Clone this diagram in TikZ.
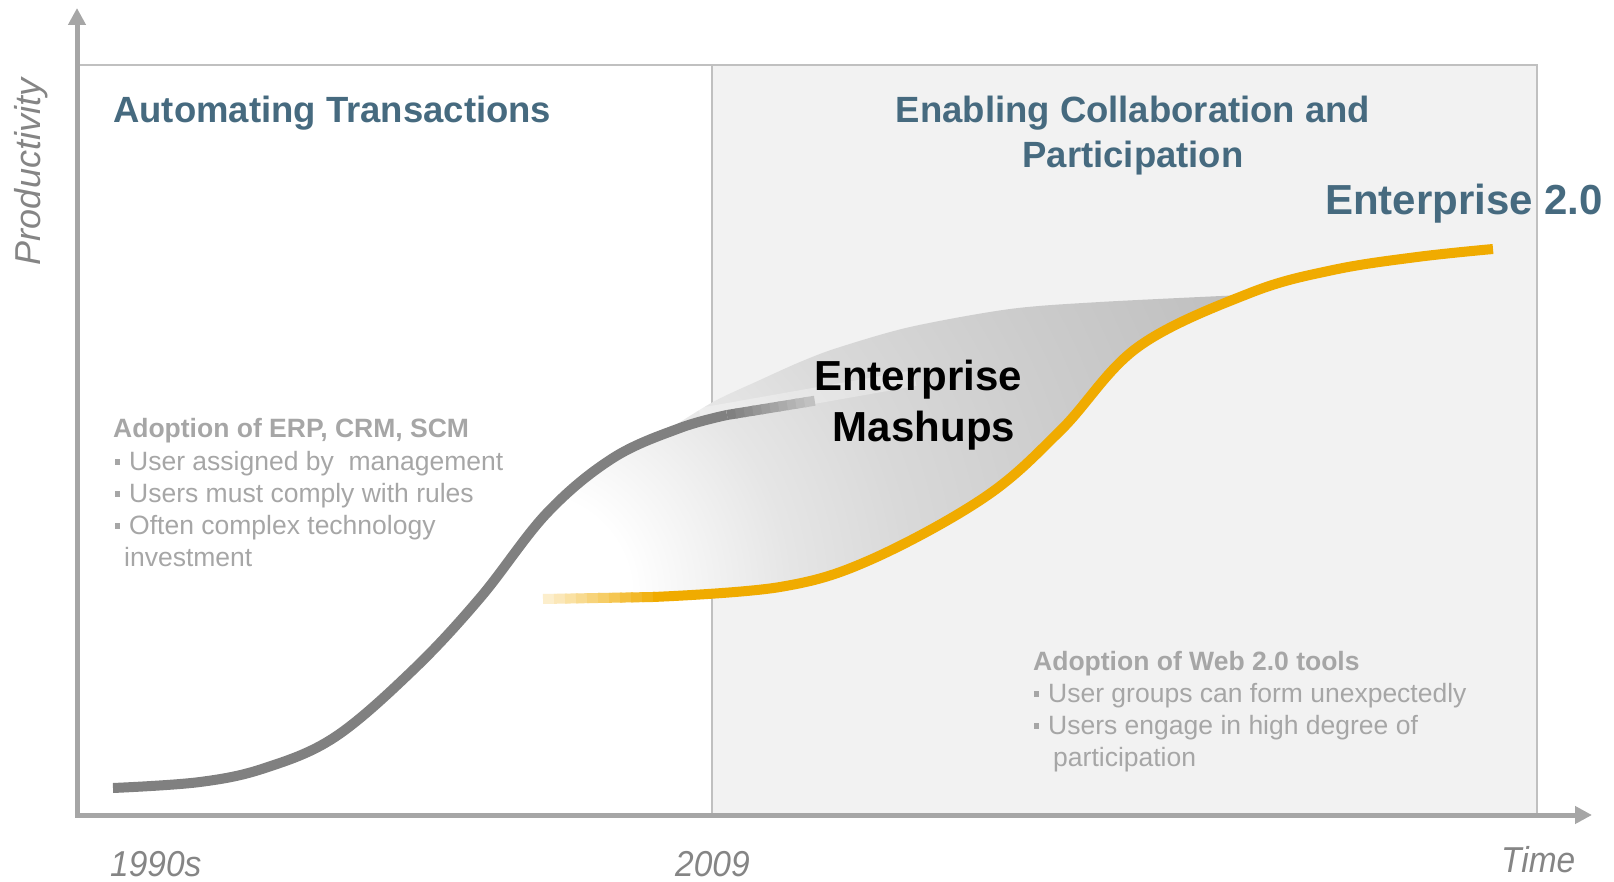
\documentclass[tikz,border=0pt]{standalone}
\usepackage{fontspec}
\setmainfont{Liberation Sans}
\usetikzlibrary{arrows.meta,calc}

\definecolor{titleblue}{HTML}{466A7F}
\definecolor{notegray}{HTML}{A6A6A6}
\definecolor{axisgray}{HTML}{A6A6A6}
\definecolor{framegray}{HTML}{C0C0C0}
\definecolor{panelgray}{HTML}{F2F2F2}
\definecolor{labelgray}{HTML}{858585}
\definecolor{oldcurve}{HTML}{808080}
\definecolor{tailgray}{HTML}{D0D0D0}
\definecolor{newcurve}{HTML}{F0AB00}

\pgfdeclareradialshading{mashshade}{\pgfpoint{0bp}{0bp}}{%
  color(0bp)=(white); color(2.5bp)=(white); color(6.5bp)=(black!10);
  color(9.5bp)=(black!15); color(14bp)=(black!20); color(19bp)=(black!25); color(50bp)=(black!25)}

\newcommand{\sqbul}{\rule[0.2em]{5pt}{6pt}\hspace{9pt}}

\begin{document}
\begin{tikzpicture}[
  x=1pt, y=-1pt,
  heading/.style={font=\fontsize{36.5}{45}\selectfont\bfseries, text=titleblue, inner sep=0pt},
  bigheading/.style={font=\fontsize{42}{50}\selectfont\bfseries, inner sep=0pt},
  note/.style={font=\fontsize{26.5}{32}\selectfont, text=notegray, inner sep=0pt, anchor=base west},
  axislabel/.style={font=\fontsize{36}{40}\selectfont\itshape, text=labelgray, inner sep=0pt},
  timeaxis/.style={draw=axisgray, line width=5pt, -{Triangle[length=17pt,width=17pt]}},
  boxline/.style={draw=framegray, line width=2pt},
  oldline/.style={line width=10pt, draw=oldcurve},
  newline/.style={line width=10pt, draw=newcurve}
]
\useasboundingbox (0,0) rectangle (1614,882);

% Panels
\fill[panelgray] (712,65) rectangle (1537,815);
\draw[boxline] (77,65) -- (1537,65) -- (1537,815);
\draw[boxline] (712,65) -- (712,815);

% Mashup area between the two curves
\begin{scope}
\clip plot[smooth] coordinates {(490,590) (513,557) (547,513) (580,480) (613,458) (647,440) (663,433)}
  -- plot[smooth] coordinates {(663,433) (713,402) (760,380) (800,362) (837,348) (910,327) (1010,309) (1100,302) (1243,295)}
  -- plot[smooth] coordinates {(1243,295) (1183,317) (1138,347) (1100,388) (1061,430) (985,497) (870,560) (780,587) (653,597) (546,600)}
  -- cycle;
\shade[shading=mashshade] (530,595) circle (1000);
\end{scope}
\draw[line width=16pt, white, opacity=0.3] (700,416) -- (915,378);

% Old curve (transactions)
\draw[oldline] plot[smooth, tension=0.6] coordinates {(113,788) (200,782) (265,768) (335,737) (413,670) (480,598) (547,513) (613,458) (680,428) (727,415)};
\coordinate (oldA) at (727,415);
\coordinate (oldB) at (813,401);
\foreach \i in {0,...,9}{
  \pgfmathsetmacro\shadeval{100-9*\i}
  \draw[oldline, draw=oldcurve!\shadeval!tailgray] ($(oldA)!\i/10!(oldB)$) -- ($(oldA)!{(\i+1.2)/10}!(oldB)$);
}

% New curve (enterprise 2.0)
\coordinate (newA) at (543,599);
\coordinate (newB) at (653,597);
\foreach \i in {0,...,9}{
  \pgfmathsetmacro\shadeval{20+8*\i}
  \draw[newline, draw=newcurve!\shadeval!white] ($(newA)!\i/10!(newB)$) -- ($(newA)!{(\i+1.2)/10}!(newB)$);
}
\draw[newline] plot[smooth, tension=0.6] coordinates {(653,597) (780,587) (870,560) (985,497) (1061,430) (1138,347) (1250,293) (1333,270) (1417,257) (1493,249)};

% Axes
\draw[timeaxis] (77,815) -- (1592,815);
\draw[timeaxis] (77,817.5) -- (77,8);

% Titles
\node[heading, anchor=base west] (autoTitle) at (113,123) {Automating Transactions};
\node[heading, anchor=base] (collabTitle) at (1133,123) {Enabling Collaboration and};
\node[heading, anchor=base] (collabTitleB) at (1133,168) {Participation};
\node[bigheading, text=titleblue, anchor=base west] (entTitle) at (1325,215) {Enterprise 2.0};
\node[bigheading, anchor=base] (mashTitle) at (918,391) {Enterprise};
\node[bigheading, anchor=base] (mashTitleB) at (924,441) {Mashups};

% Notes left
\node[note] (erpHead) at (113,437) {\textbf{Adoption of ERP, CRM, SCM}};
\node[note] (erpA) at (115,470) {\sqbul User assigned by\ \ management};
\node[note] (erpB) at (115,502) {\sqbul Users must comply with rules};
\node[note] (erpC) at (115,534) {\sqbul Often complex technology};
\node[note] (erpD) at (124,566) {investment};

% Notes right
\node[note] (webHead) at (1033,670) {\textbf{Adoption of Web 2.0 tools}};
\node[note] (webA) at (1034,702) {\sqbul User groups can form unexpectedly};
\node[note] (webB) at (1034,734) {\sqbul Users engage in high degree of};
\node[note] (webC) at (1053,766) {participation};

% Axis labels
\node[axislabel, rotate=90] (prodLabel) at (31,172) {Productivity};
\node[axislabel, anchor=base west] (startLabel) at (110,876) {\scalebox{0.93}[1]{1990s}};
\node[axislabel, anchor=base west] (nowLabel) at (675,876) {\scalebox{0.93}[1]{2009}};
\node[axislabel, anchor=base west] (timeLabel) at (1501,872) {\scalebox{0.93}[1]{Time}};
\end{tikzpicture}
\end{document}
